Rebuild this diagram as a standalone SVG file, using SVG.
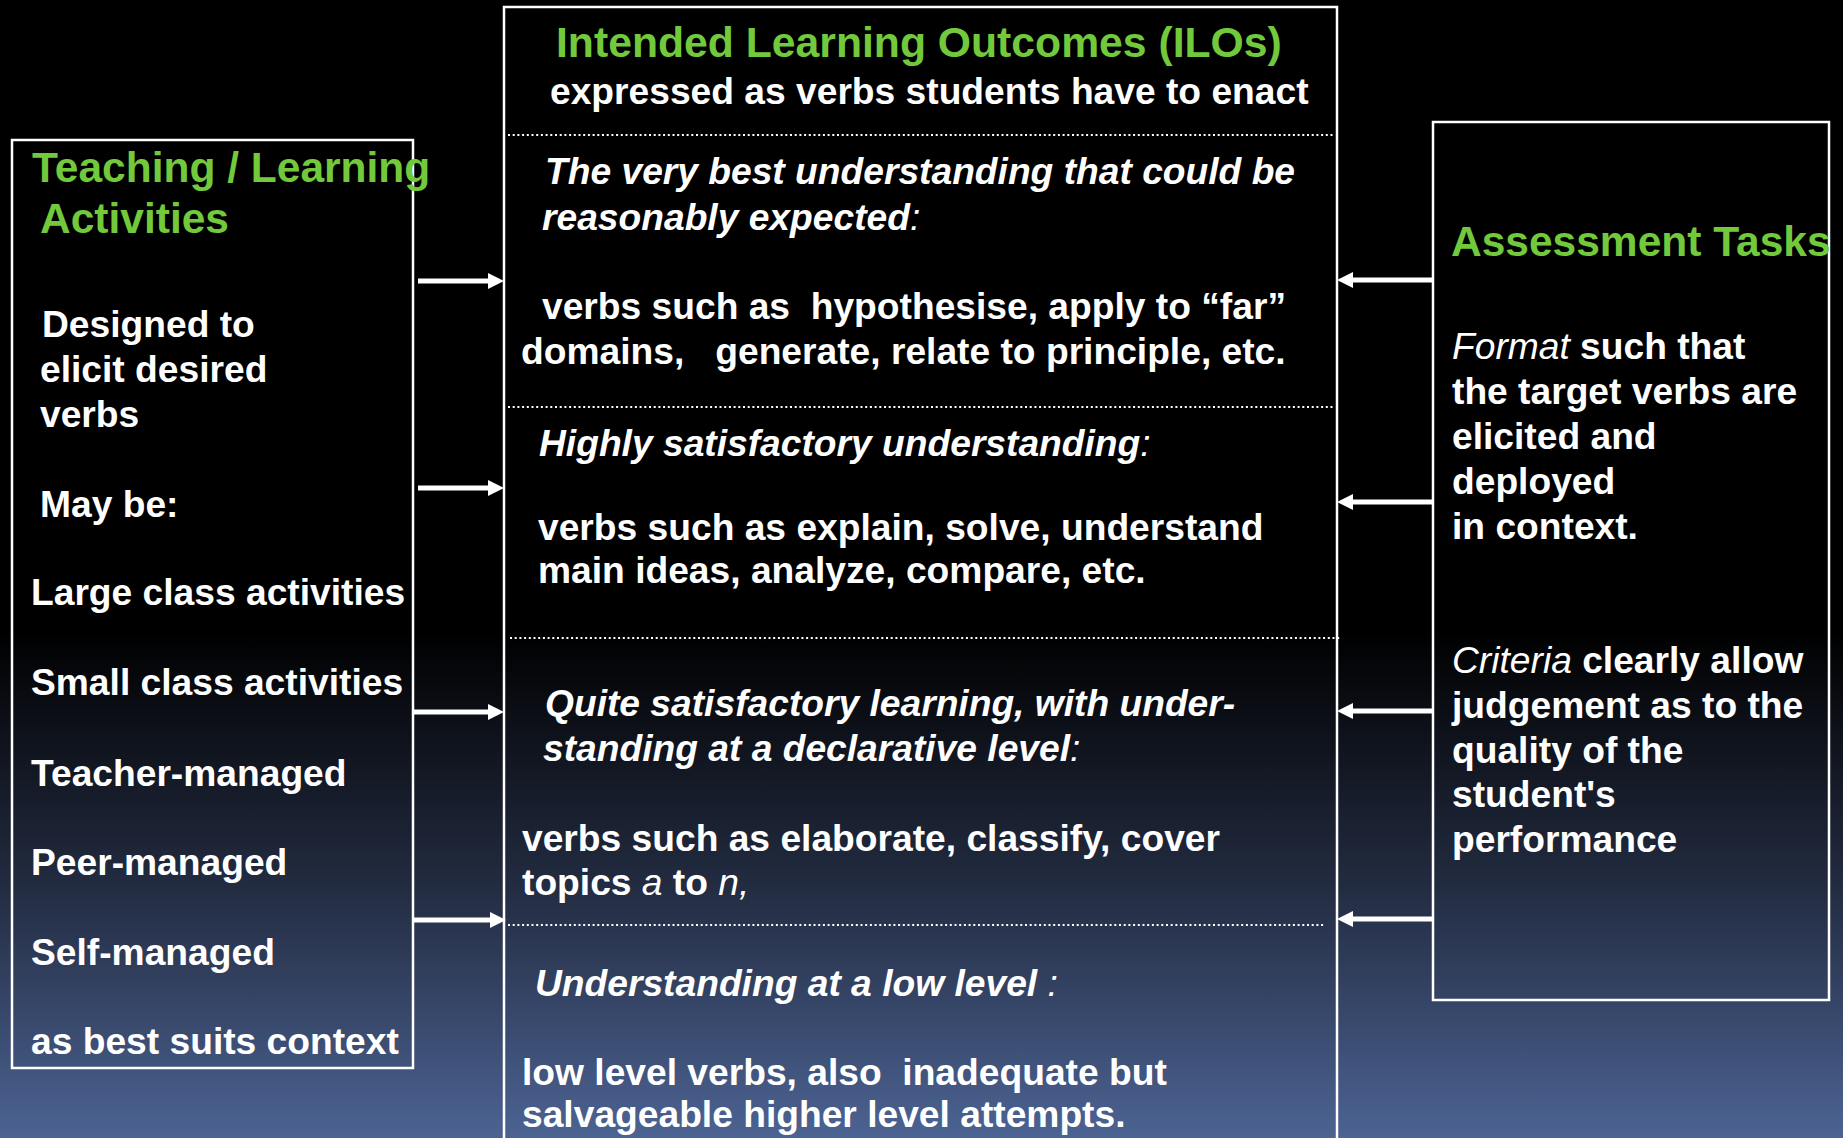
<svg xmlns="http://www.w3.org/2000/svg" width="1843" height="1138" viewBox="0 0 1843 1138">
<defs>
<linearGradient id="bg" gradientUnits="userSpaceOnUse" x1="0" y1="630" x2="0" y2="1138">
<stop offset="0" stop-color="#000000"/>
<stop offset="0.5" stop-color="#222b40"/>
<stop offset="1" stop-color="#4c6393"/>
</linearGradient>
<marker id="ah" markerUnits="userSpaceOnUse" markerWidth="16" markerHeight="16" viewBox="0 0 16 16" refX="1" refY="8" orient="auto">
<path d="M0,0 L16,8 L0,16 z" fill="#ffffff"/>
</marker>
<style>
text{font-family:"Liberation Sans",Arial,sans-serif;font-weight:bold;font-size:37.2px;fill:#ffffff;white-space:pre}
.h{font-size:42.5px;fill:#72c93c}
.t{font-size:42.7px;fill:#72c93c}
.i{font-style:italic}
.ir{font-style:italic;font-weight:normal}
.box{fill:none;stroke:#ffffff;stroke-width:2.5}
.dot{stroke:#ffffff;stroke-width:2;stroke-dasharray:2 2.7;fill:none}
.arr{stroke:#ffffff;stroke-width:5;fill:none;marker-end:url(#ah)}
</style>
</defs>
<rect x="0" y="0" width="1843" height="1138" fill="url(#bg)"/>

<g id="ilo">
<rect class="box" x="504" y="7" width="833" height="1140"/>
<line class="dot" x1="508" y1="135" x2="1333" y2="135"/>
<line class="dot" x1="508" y1="407" x2="1333" y2="407"/>
<line class="dot" x1="510" y1="638" x2="1340" y2="638"/>
<line class="dot" x1="508" y1="925" x2="1325" y2="925"/>
<text class="t" x="556" y="57">Intended Learning Outcomes (ILOs)</text>
<text x="550" y="104">expressed as verbs students have to enact</text>
<text class="i" x="545" y="184">The very best understanding that could be</text>
<text class="i" x="542" y="230">reasonably expected<tspan class="ir">:</tspan></text>
<text x="542" y="319">verbs such as  hypothesise, apply to “far”</text>
<text x="521" y="364">domains,   generate, relate to principle, etc.</text>
<text class="i" x="539" y="456">Highly satisfactory understanding<tspan class="ir">:</tspan></text>
<text x="538" y="540">verbs such as explain, solve, understand</text>
<text x="538" y="583">main ideas, analyze, compare, etc.</text>
<text class="i" x="545" y="716">Quite satisfactory learning, with under-</text>
<text class="i" x="543" y="761">standing at a declarative level<tspan class="ir">:</tspan></text>
<text x="522" y="851">verbs such as elaborate, classify, cover</text>
<text x="522" y="895">topics <tspan class="ir">a</tspan> to <tspan class="ir">n,</tspan></text>
<text class="i" x="535" y="996">Understanding at a low level <tspan class="ir">:</tspan></text>
<text x="522" y="1085">low level verbs, also  inadequate but</text>
<text x="522" y="1127">salvageable higher level attempts.</text>
</g>

<g id="tla">
<rect class="box" x="12" y="140" width="401" height="928"/>
<text class="h" x="32" y="182">Teaching / Learning</text>
<text class="h" x="40" y="233">Activities</text>
<text x="42" y="337">Designed to</text>
<text x="40" y="382">elicit desired</text>
<text x="40" y="427">verbs</text>
<text x="40" y="517">May be:</text>
<text x="31" y="605">Large class activities</text>
<text x="31" y="695">Small class activities</text>
<text x="31" y="786">Teacher-managed</text>
<text x="31" y="875">Peer-managed</text>
<text x="31" y="965">Self-managed</text>
<text x="31" y="1054">as best suits context</text>
</g>

<g id="assessment">
<rect class="box" x="1433" y="122" width="396" height="878"/>
<text class="h" x="1451" y="256">Assessment Tasks</text>
<text x="1452" y="359"><tspan class="ir">Format</tspan> such that</text>
<text x="1452" y="404">the target verbs are</text>
<text x="1452" y="449">elicited and</text>
<text x="1452" y="494">deployed</text>
<text x="1452" y="539">in context.</text>
<text x="1452" y="673"><tspan class="ir">Criteria</tspan> clearly allow</text>
<text x="1452" y="718">judgement as to the</text>
<text x="1452" y="763">quality of the</text>
<text x="1452" y="807">student's</text>
<text x="1452" y="852">performance</text>
</g>

<g id="connectors">
<line class="arr" x1="418" y1="281" x2="489" y2="281"/>
<line class="arr" x1="418" y1="488" x2="489" y2="488"/>
<line class="arr" x1="414" y1="712" x2="489" y2="712"/>
<line class="arr" x1="414" y1="920" x2="491" y2="920"/>
<line class="arr" x1="1433" y1="280" x2="1352" y2="280"/>
<line class="arr" x1="1433" y1="502" x2="1352" y2="502"/>
<line class="arr" x1="1433" y1="711" x2="1352" y2="711"/>
<line class="arr" x1="1433" y1="919" x2="1352" y2="919"/>
</g>
</svg>
